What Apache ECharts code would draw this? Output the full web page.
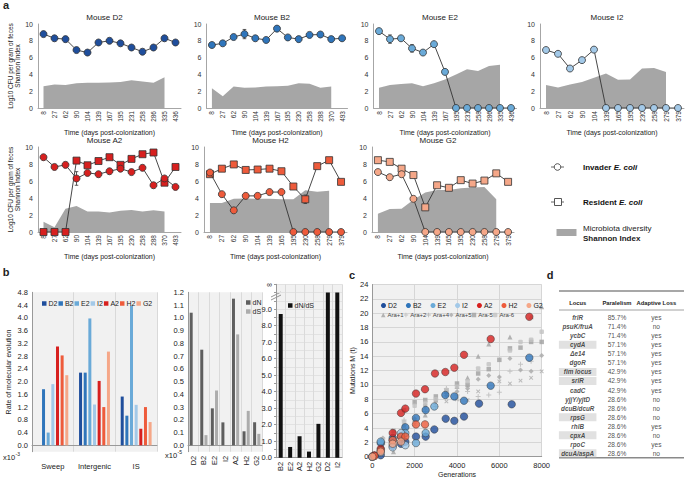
<!DOCTYPE html>
<html><head><meta charset="utf-8">
<script src="https://cdn.jsdelivr.net/npm/echarts@6/dist/echarts.min.js"></script>
<style>html,body{margin:0;padding:0;background:#fff}#c{width:685px;height:479px}</style>
</head><body><div id="c"></div>
<script>
// ================= DATA =================
// Panel a: log10 CFU (invader / resident) and Shannon index per sampling day
const daysD2 = ['8','27','62','90','104','139','167','195','231','258','286','335','436'];
const invD2 = [8.8,8.3,8.2,6.9,6.6,7.8,8.0,7.7,7.2,6.7,7.2,8.3,7.8];
const shD2  = [2.6,2.8,2.75,2.95,3.0,3.0,3.05,3.1,3.3,3.15,3.0,3.65,null];
const daysB2 = ['8','27','62','90','104','139','167','195','230','258','288','370','493'];
const invB2 = [7.5,7.7,8.45,8.8,8.3,8.1,9.45,8.4,8.2,8.7,8.75,8.2,8.3];
const errB2 = [0,0,0,0.55,0,0,0,0,0,0,0,0,0];
const shB2  = [2.35,1.4,2.55,2.4,2.45,2.55,2.6,2.65,2.95,2.9,2.4,2.55,null];
const daysE2 = ['8','27','62','90','104','139','167','195','231','258','286','335','436'];
const invE2 = [9.15,8.2,8.3,7.1,6.6,7.6,4.3,0,0,0,0,0,0];
const errE2 = [0,0.5,0,0.45,0,0,0,0,0,0,0,0,0];
const shE2  = [2.4,2.75,2.85,2.95,2.6,2.95,3.4,4.0,4.6,4.4,5.0,5.15,null];
const daysI2 = ['8','27','62','90','104','139','165','195','230','258','279','379'];
const invI2 = [6.9,6.45,4.7,5.7,6.95,0,0,0,0,0,0,0];
const shI2  = [2.75,2.45,2.8,3.1,3.6,4.1,3.35,3.4,4.7,4.75,4.3,null];
const daysA2 = ['8','27','62','90','104','139','167','195','230','258','288','370','493'];
const invA2 = [8.8,7.65,7.9,6.3,6.95,6.8,7.15,7.45,7.05,7.55,5.5,6.3,5.3];
const errA2 = [0,0,0,0.8,0,0,0,0,0,0,0,0,0];
const resA2 = [0,0,0,8.4,7.85,8.35,8.8,7.9,8.6,9.15,9.35,5.8,7.65];
const shA2  = [1.2,0.55,2.75,3.05,2.4,2.4,2.3,2.5,2.6,2.4,2.55,2.4,null];
const daysH2 = ['8','27','62','90','104','139','165','195','230','258','279','379'];
const invH2 = [7.0,4.45,2.55,4.25,4.25,4.7,4.7,0,0,0,0,0];
const resH2 = [6.8,7.45,7.95,7.3,7.35,7.45,7.15,5.35,3.85,7.75,8.45,5.9];
const errResH2 = [0,0,0,0,0,0,0,0,0.5,0,0,0];
const shH2  = [3.4,3.4,3.9,3.95,3.9,3.9,3.85,3.85,4.9,4.75,4.85,null];
const daysG2 = ['8','27','62','90','104','139','165','195','230','258','279','379'];
const invG2 = [7.05,6.45,6.8,3.9,0,0,0,0,0,0,0,0];
const errG2 = [0,0.3,0,0,0,0,0,0,0,0,0,0];
const resG2 = [8.45,8.25,7.45,6.7,2.9,5.5,5.2,6.1,5.7,6.05,6.9,5.9];
const shG2  = [2.15,2.7,2.75,3.8,4.65,4.95,4.95,5.15,5.25,5.3,3.85,null];

// Panel b: rate of molecular evolution (x10^-3)
const mice = ['D2','B2','E2','I2','A2','H2','G2'];
const rateCats = ['Sweep','Intergenic','IS'];
const rateD2 = [0.0,2.28,1.53];
const rateB2 = [1.76,2.28,0.93];
const rateE2 = [0.4,3.98,4.38];
const rateI2 = [1.92,1.28,1.27];
const rateA2 = [3.1,2.02,0.52];
const rateH2 = [2.82,1.2,1.2];
const rateG2 = [2.2,2.94,0.73];
// dN, dS (x10^-5)
const dNdSMice = ['D2','B2','E2','I2','A2','H2','G2'];
const dN = [1.04,0.75,0.29,0.18,1.15,0.11,0.18];
const dS = [0.0,0.08,0.43,0.0,0.87,0.27,0.09];
// dN/dS
const ratioMice = ['B2','E2','A2','H2','G2','D2','I2'];
const ratio = [8.7,0.65,1.3,0.37,2.05,Infinity,Infinity];

// Panel c: mutations M(t) vs generations
const mutD2 = [[0,0],[397,0.2],[963,1.5],[1355,1.8],[1559,2.1],[2063,2.8],[2520,2.8],[2929,3.8],[3466,5.3],[3873,5.0],[4331,5.6],[5040,7.4],[6584,7.3]];
const mutB2 = [[0,0],[397,1.9],[963,2.6],[1559,4.1],[2063,5.4],[2520,6.5],[3449,8.6],[3873,8.4],[4331,7.8],[5591,9.9],[7415,13.8]];
const mutE2 = [[0,0],[397,2.1],[963,2.3],[1355,2.8],[1559,3.3],[2063,1.9],[2520,3.3],[2929,7.0]];
const mutI2 = [[100,0.1],[397,0.6],[963,1.3],[1355,3.3],[1559,1.6]];
const mutA2 = [[100,0.2],[397,1.1],[963,3.3],[1355,6.1],[1559,6.7],[2063,8.8],[2489,9.4],[2961,11.6],[3449,11.8],[3873,12.4],[4331,14.2],[5591,16.4],[7415,19.5]];
const mutH2 = [[100,0.1],[397,0.9],[963,2.3],[1355,2.8],[1559,2.8],[2063,4.5],[2489,4.5]];
const mutG2 = [[0,0],[397,0.7],[963,1.8],[1355,2.1]];
const araP1 = [[500,1.4],[1000,0.7],[1500,4.4],[2000,5.3],[2500,5.8],[3000,7.9],[3500,9.1],[4000,9.8],[4500,11.0],[5000,14.0],[5500,15.7],[6500,16.7],[7500,19.5],[8000,20.9]];
const araP2 = [[500,2.1],[1000,2.3],[1500,5.1],[2000,4.9],[2500,6.3],[3000,7.0],[3500,9.5],[4000,8.6],[4500,9.1],[5000,8.4],[5500,8.6],[6000,9.0],[6500,11.9],[7000,12.9],[7500,13.3]];
const araP4 = [[500,0.5],[1000,1.8],[1500,3.6],[2000,4.5],[2500,6.8],[3000,7.5],[3500,7.7],[4000,8.0],[4500,7.9],[5000,9.1],[6000,10.5],[6500,10.2],[7000,10.6],[7500,11.0],[8000,11.9]];
const araP5 = [[500,2.6],[1000,2.9],[1500,4.4],[2000,5.3],[2500,7.2],[3000,7.9],[3500,8.5],[4000,9.1],[4500,9.5],[5000,10.8],[5500,11.3],[6000,11.1],[6500,13.7],[7000,12.1],[7500,11.9],[8000,14.1]];
const araM5 = [[500,1.9],[1000,3.6],[1500,6.5],[2000,7.6],[2500,7.9],[3000,8.4],[3500,9.1],[4000,10.2],[4500,10.0],[5000,11.6],[5500,12.2],[6000,13.5],[6500,15.1],[7000,15.2],[7500,16.0],[8000,16.0]];
const araM6 = [[500,2.4],[1000,3.0],[1500,4.8],[2000,7.1],[2500,7.5],[3000,8.0],[3500,9.3],[4000,9.8],[4500,10.5],[5000,12.3],[5500,12.9],[6500,14.8],[7000,16.0],[7500,16.3],[8000,17.4]];

// Panel d: table
const loci = ['frlR','psuK/fruA','ycbC','cydA','\u0394e14','dgoR','fim locus','srlR','cadC','yjjY/yjtD','dcuB/dcuR','rpsG','rhlB','cpxA','rpoC','dcuA/aspA'];
const parallelism = ['85.7%','71.4%','71.4%','57.1%','57.1%','57.1%','42.9%','42.9%','42.9%','28.6%','28.6%','28.6%','28.6%','28.6%','28.6%','28.6%'];
const adaptiveLoss = ['yes','no','yes','yes','yes','yes','yes','yes','yes','no','no','no','yes','no','yes','no'];
const highlighted = [0,0,0,1,0,0,1,1,0,0,0,1,0,1,0,1];
const tableCols = ['Locus','Paralelism','Adaptive Loss'];

// ================= BUILD =================
const chart = echarts.init(document.getElementById('c'), null, {renderer:'svg'});
const FONT = '"Liberation Sans", Arial, sans-serif';
const C = {D2:'#1f4e9c',B2:'#2f75bb',E2:'#6aaad8',I2:'#a3c9e8',A2:'#d7201f',H2:'#ee5b3b',G2:'#f5a788'};
const grid=[], xAxis=[], yAxis=[], series=[], graphic=[], legend=[];

function txt(x,y,text,o){
  o=o||{};
  const al=o.align||'center';
  graphic.push({type:'text', x:x, y:y, silent:true, rotation:o.rotation||0,
    style:{text:text, fill:o.fill||'#222', fontSize:o.size||7, fontWeight:o.weight||'normal', fontStyle:o.style||'normal',
      fontFamily:FONT, textAlign:al, align:al, textVerticalAlign:'middle', verticalAlign:'middle', rich:o.rich}});
}
function hline(x1,x2,y,w,c){ graphic.push({type:'line', silent:true, shape:{x1:x1,y1:y,x2:x2,y2:y}, style:{stroke:c||'#888', lineWidth:w||1}}); }

function errSeries(gi, vals, errs){
  const data = vals.map((v,i)=> errs[i] ? [i, v-errs[i], v+errs[i]] : null).filter(Boolean);
  series.push({type:'custom', name:'err', xAxisIndex:gi, yAxisIndex:gi, silent:true, z:2, data:data,
    encode:{x:0, y:[1,2]},
    renderItem:(params, api)=>{
      const lo = api.coord([api.value(0), api.value(1)]);
      const hi = api.coord([api.value(0), api.value(2)]);
      const w = 1.8, st = {stroke:'#333', lineWidth:0.8};
      return {type:'group', children:[
        {type:'line', shape:{x1:lo[0],y1:lo[1],x2:hi[0],y2:hi[1]}, style:st},
        {type:'line', shape:{x1:lo[0]-w,y1:lo[1],x2:lo[0]+w,y2:lo[1]}, style:st},
        {type:'line', shape:{x1:hi[0]-w,y1:hi[1],x2:hi[0]+w,y2:hi[1]}, style:st}]};
    }});
}

// ---- panel a ----
function mousePanel(o){
  const gi = grid.length;
  grid.push({left:o.l, top:o.t, width:o.w, height:o.h});
  xAxis.push({type:'category', gridIndex:gi, data:o.days, boundaryGap:true,
    axisLine:{show:true, lineStyle:{color:'#a6a6a6'}}, axisTick:{show:false},
    axisLabel:{interval:0, rotate:90, fontSize:6.5, color:'#333', margin:3, fontFamily:FONT},
    name:'Time (days post-colonization)', nameLocation:'middle', nameGap:21,
    nameTextStyle:{fontSize:7, color:'#222', fontFamily:FONT}});
  yAxis.push({type:'value', gridIndex:gi, min:0, max:10, interval:2,
    axisLine:{show:true, lineStyle:{color:'#a6a6a6'}}, axisTick:{show:false}, splitLine:{show:false},
    axisLabel:{fontSize:7, color:'#333', margin:5, fontFamily:FONT},
    name: o.yname ? 'Log10 CFU per gram of feces\nShannon Index' : '', nameLocation:'middle', nameRotate:90, nameGap:14,
    nameTextStyle:{fontSize:6.5, color:'#222', fontFamily:FONT, lineHeight:7}});
  series.push({type:'line', name:'Shannon Index', xAxisIndex:gi, yAxisIndex:gi, data:o.sh, symbol:'none', silent:true,
    lineStyle:{width:0}, areaStyle:{color:'#a6a6a6', opacity:1}, z:1});
  if (o.err) errSeries(gi, o.inv, o.err);
  if (o.resErr) errSeries(gi, o.res, o.resErr);
  if (o.res) series.push({type:'line', name:'Resident E. coli', xAxisIndex:gi, yAxisIndex:gi, data:o.res, symbol:'rect', symbolSize:7,
    itemStyle:{color:o.color, borderColor:'#333', borderWidth:0.8}, lineStyle:{color:'#333', width:0.9}, z:3});
  series.push({type:'line', name:'Invader E. coli', xAxisIndex:gi, yAxisIndex:gi, data:o.inv, symbol:'circle', symbolSize:7,
    itemStyle:{color:o.color, borderColor:'#333', borderWidth:0.8}, lineStyle:{color:'#333', width:0.9}, z:4});
  txt(o.l + o.w/2 - 5, o.t - 7, 'Mouse ' + o.name, {size:8});
}
mousePanel({name:'D2', days:daysD2, inv:invD2, sh:shD2, color:C.D2, l:38, t:24, w:143, h:84, yname:true});
mousePanel({name:'B2', days:daysB2, inv:invB2, err:errB2, sh:shB2, color:C.B2, l:206.5, t:24, w:141, h:84});
mousePanel({name:'E2', days:daysE2, inv:invE2, err:errE2, sh:shE2, color:C.E2, l:373.5, t:24, w:143, h:84});
mousePanel({name:'I2', days:daysI2, inv:invI2, sh:shI2, color:C.I2, l:540, t:24, w:144, h:84});
mousePanel({name:'A2', days:daysA2, inv:invA2, err:errA2, res:resA2, sh:shA2, color:C.A2, l:38, t:147, w:143, h:85, yname:true});
mousePanel({name:'H2', days:daysH2, inv:invH2, res:resH2, resErr:errResH2, sh:shH2, color:C.H2, l:204, t:147, w:143, h:85});
mousePanel({name:'G2', days:daysG2, inv:invG2, err:errG2, res:resG2, sh:shG2, color:C.G2, l:372, t:147, w:142, h:85});

// panel a legend
graphic.push({type:'line', silent:true, shape:{x1:551,y1:167,x2:564,y2:167}, style:{stroke:'#666', lineWidth:1}});
graphic.push({type:'circle', silent:true, shape:{cx:557.5, cy:167, r:3.3}, style:{fill:'#fff', stroke:'#555', lineWidth:1}});
graphic.push({type:'line', silent:true, shape:{x1:551,y1:202,x2:564,y2:202}, style:{stroke:'#666', lineWidth:1}});
graphic.push({type:'rect', silent:true, shape:{x:554.5, y:198.5, width:7, height:7}, style:{fill:'#fff', stroke:'#555', lineWidth:1}});
graphic.push({type:'rect', silent:true, shape:{x:556.5, y:229, width:20, height:7}, style:{fill:'#a6a6a6'}});
const legRich = {b:{fontWeight:'bold', fontSize:8, fontFamily:FONT, fill:'#111', color:'#111'}, bi:{fontWeight:'bold', fontStyle:'italic', fontSize:8, fontFamily:FONT, fill:'#111', color:'#111'}};
txt(583, 167, '{b|Invader }{bi|E. coli}', {align:'left', rich:legRich});
txt(583, 202, '{b|Resident }{bi|E. coli}', {align:'left', rich:legRich});
txt(583, 228, 'Microbiota diversity', {align:'left', size:8});
txt(583, 238.5, 'Shannon Index', {align:'left', size:8, weight:'bold'});

// panel letters
txt(6, 5, 'a', {size:11, weight:'bold'});
txt(6, 272, 'b', {size:11, weight:'bold'});
txt(352, 275, 'c', {size:11, weight:'bold'});
txt(550, 275, 'd', {size:11, weight:'bold'});

// ---- panel b1: rates ----
const gB1 = grid.length;
grid.push({left:32, top:292.3, width:125, height:159.4, show:true, backgroundColor:'#f1f1f1', borderWidth:0});
xAxis.push({type:'category', gridIndex:gB1, data:rateCats,
  axisLine:{show:true, lineStyle:{color:'#999'}}, axisTick:{show:false},
  splitLine:{show:true, lineStyle:{color:'#d9d9d9'}},
  axisLabel:{interval:0, hideOverlap:false, fontSize:7.5, color:'#222', margin:11, fontFamily:FONT}});
yAxis.push({type:'value', gridIndex:gB1, min:-0.2, max:4.8, interval:0.2,
  axisLine:{show:true, lineStyle:{color:'#999'}}, axisTick:{show:false}, splitLine:{show:false},
  axisLabel:{fontSize:7.5, color:'#222', margin:4, fontFamily:FONT,
    formatter:v=>{const k=Math.round(v*10); return (k>=0 && k%4===0) ? (k/10).toFixed(1) : '';}},
  name:'Rate of molecular evolution', nameLocation:'middle', nameRotate:90, nameGap:20,
  nameTextStyle:{fontSize:7, color:'#222', fontFamily:FONT}});
const rates = {D2:rateD2,B2:rateB2,E2:rateE2,I2:rateI2,A2:rateA2,H2:rateH2,G2:rateG2};
mice.forEach(m=>{
  series.push({type:'bar', name:m, xAxisIndex:gB1, yAxisIndex:gB1, data:rates[m], barWidth:3, barGap:'55%',
    itemStyle:{color:C[m]}, silent:true});
});
legend.push({left:37, top:295, itemWidth:4.5, itemHeight:4.5, itemGap:1, icon:'rect', selectedMode:false,
  textStyle:{fontSize:7, color:'#222', fontFamily:FONT, padding:[0,0,0,-3]}, data:mice});
txt(3, 457, 'x10', {align:'left', size:7.5});
txt(15.5, 453.5, '-3', {align:'left', size:5});

// ---- panel b2: dN dS ----
const gB2 = grid.length;
grid.push({left:188, top:292.3, width:74, height:159.4, show:true, backgroundColor:'#f1f1f1', borderWidth:0});
xAxis.push({type:'category', gridIndex:gB2, data:dNdSMice,
  axisLine:{show:true, lineStyle:{color:'#999'}}, axisTick:{show:false},
  splitLine:{show:true, lineStyle:{color:'#dadada'}},
  axisLabel:{interval:0, rotate:90, fontSize:7.5, color:'#222', margin:4, fontFamily:FONT}});
yAxis.push({type:'value', gridIndex:gB2, min:-0.05, max:1.2, interval:0.05,
  axisLine:{show:true, lineStyle:{color:'#999'}}, axisTick:{show:false}, splitLine:{show:false},
  axisLabel:{fontSize:7.5, color:'#222', margin:4, fontFamily:FONT,
    formatter:v=>{const k=Math.round(v*100); return (k>=0 && k%10===0) ? (k/100).toFixed(1) : '';}}});
series.push({type:'bar', name:'dN', xAxisIndex:gB2, yAxisIndex:gB2, data:dN, barWidth:3, barGap:'40%', itemStyle:{color:'#5f5f5f'}, silent:true});
series.push({type:'bar', name:'dS', xAxisIndex:gB2, yAxisIndex:gB2, data:dS, barWidth:3, barGap:'40%', itemStyle:{color:'#acacac'}, silent:true});
legend.push({orient:'vertical', left:241, top:294, itemWidth:4.5, itemHeight:4.5, itemGap:2, icon:'rect', selectedMode:false,
  textStyle:{fontSize:7, color:'#222', fontFamily:FONT, padding:[0,0,0,-3]}, data:['dN','dS']});
txt(165, 455, 'x10', {align:'left', size:7.5});
txt(177.5, 451.5, '-5', {align:'left', size:5});

// ---- panel b3: dN/dS ----
const gB3 = grid.length;
const RATIO_TOP = 10.5;
grid.push({left:276, top:284.3, width:66, height:173.4, show:true, backgroundColor:'#f1f1f1', borderWidth:0});
xAxis.push({type:'category', gridIndex:gB3, data:ratioMice,
  axisLine:{show:true, lineStyle:{color:'#999'}}, axisTick:{show:false},
  splitLine:{show:true, lineStyle:{color:'#dadada'}},
  axisLabel:{interval:0, rotate:90, fontSize:7.5, color:'#222', margin:4, fontFamily:FONT}});
yAxis.push({type:'value', gridIndex:gB3, min:0, max:RATIO_TOP, interval:0.5,
  axisLine:{show:true, lineStyle:{color:'#999'}}, axisTick:{show:true, length:2, lineStyle:{color:'#999'}},
  splitLine:{show:true, lineStyle:{color:'#e2e2e2'}},
  axisLabel:{fontSize:7.5, color:'#222', margin:4, fontFamily:FONT,
    formatter:v=>{ if (v>=RATIO_TOP) return '\u221E'; const k=Math.round(v*10); return (k%10===0 && v<=9) ? (k/10).toFixed(1) : '';}}});
series.push({type:'bar', name:'dN/dS', xAxisIndex:gB3, yAxisIndex:gB3,
  data:ratio.map(v=>isFinite(v)?v:RATIO_TOP-0.5), barWidth:4, itemStyle:{color:'#111'}, silent:true});
legend.push({left:283, top:297, itemWidth:4.5, itemHeight:4.5, icon:'rect', selectedMode:false,
  textStyle:{fontSize:7, color:'#222', fontFamily:FONT, padding:[0,0,0,-3]}, data:['dN/dS']});
graphic.push({type:'line', silent:true, shape:{x1:271,y1:297,x2:281,y2:292}, style:{stroke:'#777', lineWidth:0.8}});
graphic.push({type:'line', silent:true, shape:{x1:271,y1:300,x2:281,y2:295}, style:{stroke:'#777', lineWidth:0.8}});

// ---- panel c ----
const gC = grid.length;
grid.push({left:372.3, top:284.5, width:169.4, height:172.2, show:true, backgroundColor:'#f1f1f1', borderWidth:0});
xAxis.push({type:'value', gridIndex:gC, min:0, max:8000, interval:2000,
  axisLine:{show:true, lineStyle:{color:'#999'}}, axisTick:{show:false},
  splitLine:{show:true, lineStyle:{color:'#d6d6d6'}},
  axisLabel:{fontSize:7.5, color:'#222', margin:5, fontFamily:FONT, formatter:v=>String(v)},
  name:'Generations', nameLocation:'middle', nameGap:14, nameTextStyle:{fontSize:7, color:'#222', fontFamily:FONT}});
yAxis.push({type:'value', gridIndex:gC, min:0, max:24, interval:2,
  axisLine:{show:true, lineStyle:{color:'#999'}}, axisTick:{show:false},
  splitLine:{show:true, lineStyle:{color:'#d6d6d6'}},
  axisLabel:{fontSize:7.5, color:'#222', margin:4, fontFamily:FONT},
  name:'Mutations M (t)', nameLocation:'middle', nameRotate:90, nameGap:14, nameTextStyle:{fontSize:7, color:'#222', fontFamily:FONT}});
const PLUS = 'path://M4,0H6V4H10V6H6V10H4V6H0V4H4Z';
const ara = [
  {name:'Ara+1', data:araP1, symbol:'triangle', size:5, color:'#a3a3a3', rot:0},
  {name:'Ara+2', data:araP2, symbol:PLUS, size:5, color:'#b9b9b9', rot:0},
  {name:'Ara+4', data:araP4, symbol:PLUS, size:5, color:'#ababab', rot:45},
  {name:'Ara+5', data:araP5, symbol:'diamond', size:5, color:'#a8a8a8', rot:0},
  {name:'Ara-5', data:araM5, symbol:'rect', size:4.5, color:'#a0a0a0', rot:0},
  {name:'Ara-6', data:araM6, symbol:'roundRect', size:4.5, color:'#c2c2c2', rot:0}
];
ara.forEach(a=>series.push({type:'scatter', name:a.name, xAxisIndex:gC, yAxisIndex:gC, data:a.data,
  symbol:a.symbol, symbolSize:a.size, symbolRotate:a.rot, itemStyle:{color:a.color}, silent:true, z:2}));
const muts = {D2:mutD2,B2:mutB2,E2:mutE2,I2:mutI2,A2:mutA2,H2:mutH2,G2:mutG2};
mice.forEach(m=>series.push({type:'scatter', name:m, xAxisIndex:gC, yAxisIndex:gC, data:muts[m],
  symbol:'circle', symbolSize:7.5, itemStyle:{color:C[m], borderColor:'#333', borderWidth:0.6}, silent:true, z:3}));
legend.push({left:376, top:297, itemWidth:5, itemHeight:5, itemGap:9, icon:'circle', selectedMode:false,
  textStyle:{fontSize:7, color:'#222', fontFamily:FONT, padding:[0,0,0,-3]}, data:mice});
legend.push({left:376, top:307, itemWidth:4.5, itemHeight:4.5, itemGap:0, selectedMode:false,
  textStyle:{fontSize:6, color:'#444', fontFamily:FONT, padding:[0,0,0,-3]},
  data:ara.map(a=>({name:a.name, icon:a.symbol}))});

// ---- panel d: table ----
const gD = grid.length;
grid.push({left:558, top:313.2, width:118, height:144.6});
xAxis.push({type:'category', gridIndex:gD, data:tableCols, position:'top',
  axisLine:{show:false}, axisTick:{show:false}, splitLine:{show:false},
  axisLabel:{interval:0, hideOverlap:false, fontSize:5.8, fontWeight:'bold', color:'#222', margin:7, fontFamily:FONT}});
yAxis.push({type:'category', gridIndex:gD, data:loci, inverse:true, show:false});
series.push({type:'scatter', name:'hl', xAxisIndex:gD, yAxisIndex:gD, silent:true,
  data:highlighted.map((h,i)=>h?[0,i]:null).filter(d=>d), symbol:'rect', symbolSize:[37.5,8], itemStyle:{color:'#d9d9d9'}, z:1});
function tableCol(ci, vals, st){
  series.push({type:'scatter', name:'col'+ci, xAxisIndex:gD, yAxisIndex:gD, silent:true, z:2,
    data:vals.map((v,i)=>[ci,i,v]), symbolSize:1, itemStyle:{color:'rgba(0,0,0,0)'},
    label:Object.assign({show:true, position:'inside', formatter:p=>p.data[2], color:'#222', fontFamily:FONT}, st)});
}
tableCol(0, loci, {fontSize:6.3, fontWeight:'bold', fontStyle:'italic'});
tableCol(1, parallelism, {fontSize:6.6});
tableCol(2, adaptiveLoss, {fontSize:6.6});
hline(559, 684, 291, 1.4, '#8a8a8a');
hline(559, 684, 310, 0.8, '#8a8a8a');
hline(559, 684, 457.8, 1.4, '#8a8a8a');

chart.setOption({
  animation:false,
  textStyle:{fontFamily:FONT},
  grid, xAxis, yAxis, series, legend, graphic
});
</script></body></html>
